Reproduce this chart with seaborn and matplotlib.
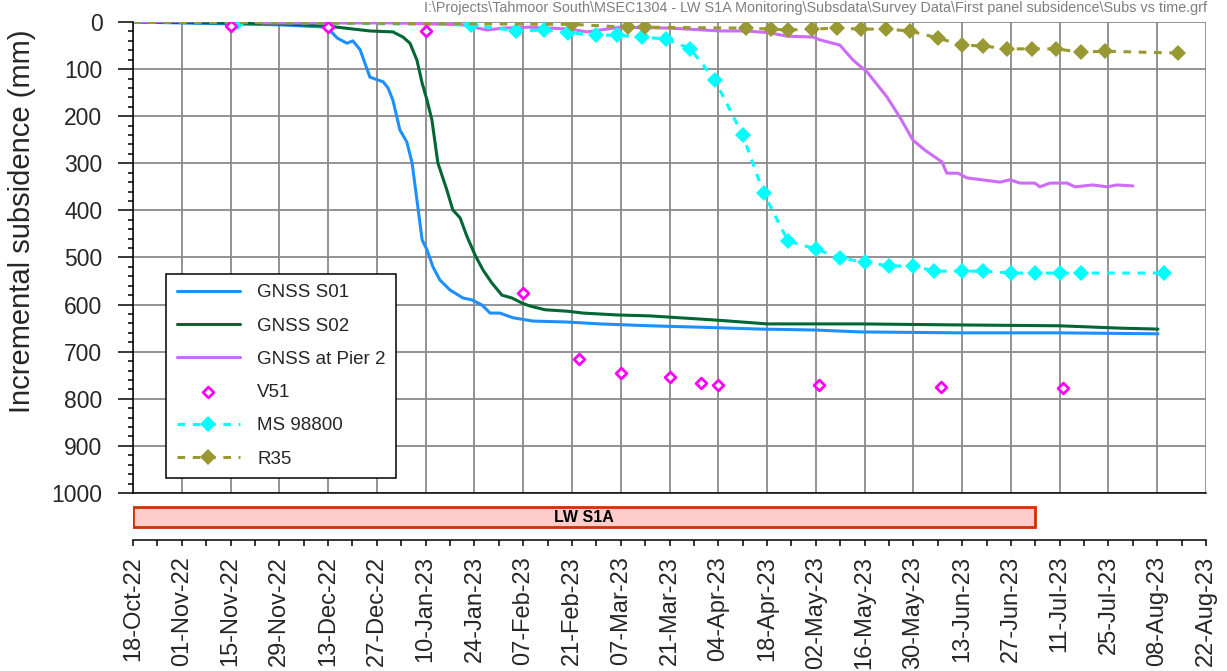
import numpy as np
import pandas as pd
import matplotlib
matplotlib.use("Agg")
import matplotlib.pyplot as plt
import matplotlib.dates as mdates
from matplotlib.ticker import MultipleLocator
import seaborn as sns

# ---------------- data ----------------
START = "2022-10-18"
END = "2023-08-22"

# GNSS series: days since 18-Oct-22, incremental subsidence (mm)
s01_day = [0, 13.5, 27.8, 42, 55.7, 58.6, 61.4, 63.1, 65.2, 68, 71.8, 73.2, 74.6, 76.6, 78.6,
           80.1, 81.5, 83, 84.4, 86.1, 88.1, 91, 94.7, 97.3, 100.2, 102.5, 105.3, 109.1, 114.8,
           124.6, 134, 148.4, 162.7, 180, 195.8, 208.7, 237.4, 266, 294.2]
s01_mm = [0, 2, 4, 6, 11, 34, 45, 40, 59, 117, 127, 140, 166, 229, 255,
          299, 378, 463, 484, 520, 548, 569, 586, 590, 601, 618, 618, 628, 635,
          637, 641, 645, 648, 652, 654, 658, 660, 660, 662]

s02_day = [0, 27.8, 42.2, 55.7, 58.6, 68, 74.6, 77.5, 79.5, 81.5, 83, 84.4, 85.8, 87.5, 90.1,
           91.8, 93.9, 95.9, 98.2, 100.5, 103, 105.9, 108.8, 111.7, 113.9, 118.3, 124.6, 129.2,
           138.9, 148.4, 167.6, 182, 196.3, 208.7, 234.5, 266, 283.3, 294.2]
s02_mm = [0, 2, 4, 8, 11, 19, 21, 32, 45, 81, 130, 166, 208, 299, 357,
          399, 416, 456, 495, 527, 554, 580, 586, 597, 603, 611, 614, 618,
          622, 624, 633, 641, 641, 641, 643, 645, 650, 652]

pier_day = [0, 33.6, 37.3, 56.5, 75.8, 94.7, 101.6, 106.2, 113.9, 125.4, 130.3, 139.8, 154.1,
            168.5, 176.2, 182.8, 187.7, 195.2, 197.2, 202.9, 206.7, 210.7, 216.4, 220.1, 223.9,
            227.3, 232.2, 233.6, 236.8, 239.4, 248.9, 251.7, 254.6, 258.9, 260.3, 263.2, 268.1,
            270.4, 275.5, 279.6, 282.4, 287]
pier_mm = [0, -4, 2, 2, 2, 6, 17, 13, 11, 15, 21, 11, 13,
           19, 19, 23, 30, 32, 38, 49, 81, 106, 159, 202, 251,
           272, 297, 321, 321, 331, 340, 335, 342, 342, 350, 342, 342,
           350, 346, 350, 346, 348]

v51_dates = ["2022-11-15", "2022-12-13", "2023-01-10", "2023-02-07", "2023-02-23", "2023-03-07",
             "2023-03-21", "2023-03-30", "2023-04-04", "2023-05-03", "2023-06-07", "2023-07-12"]
v51_mm = [8, 10, 20, 575, 715, 745, 754, 766, 771, 771, 775, 777]

ms_dates = ["2022-10-18", "2022-11-17", "2023-01-23", "2023-02-05", "2023-02-13", "2023-02-20",
            "2023-02-28", "2023-03-06", "2023-03-13", "2023-03-20", "2023-03-27", "2023-04-03",
            "2023-04-11", "2023-04-17", "2023-04-24", "2023-05-02", "2023-05-09", "2023-05-16",
            "2023-05-23", "2023-05-30", "2023-06-05", "2023-06-13", "2023-06-19", "2023-06-27",
            "2023-07-04", "2023-07-11", "2023-07-17", "2023-08-10"]
ms_mm = [0, 0, 6, 19, 17, 23, 28, 28, 32, 36, 57, 123, 240, 363, 465, 482, 501, 510,
         518, 518, 529, 529, 529, 533, 533, 533, 533, 533]

r35_dates = ["2022-10-18", "2023-02-21", "2023-03-09", "2023-03-14", "2023-04-12", "2023-04-19",
             "2023-04-24", "2023-05-01", "2023-05-08", "2023-05-15", "2023-05-22", "2023-05-29",
             "2023-06-06", "2023-06-13", "2023-06-19", "2023-06-26", "2023-07-03", "2023-07-10",
             "2023-07-17", "2023-07-24", "2023-08-14"]
r35_mm = [0, 5, 11, 11, 13, 15, 17, 15, 13, 15, 15, 19, 34, 49, 51, 57, 57, 57, 64, 62, 66]

lw_label = "LW S1A"
lw_start = "2022-10-18"
lw_end = "2023-07-04"

path_text = ("I:\\Projects\\Tahmoor South\\MSEC1304 - LW S1A Monitoring\\Subsdata\\"
             "Survey Data\\First panel subsidence\\Subs vs time.grf")

# ---------------- styling ----------------
sns.set_style("white")
plt.rcParams['font.family'] = ['Liberation Sans', 'DejaVu Sans']

t0 = pd.Timestamp(START)
def from_days(d):
    return t0 + pd.to_timedelta(np.asarray(d, dtype=float), unit="D")

fig = plt.figure(figsize=(12.27, 6.71), dpi=100)
ax = fig.add_axes([0.1084, 0.2653, 0.8745, 0.7019])
axb = fig.add_axes([0.1084, 0.1952, 0.8745, 0.0596], sharex=ax)

C_S01 = "#1E8FFF"
C_S02 = "#006633"
C_PIER = "#CC6CF8"
C_V51 = "#FF00FF"
C_MS = "#00FFFF"
C_R35 = "#999933"

sns.lineplot(x=from_days(s01_day), y=s01_mm, ax=ax, color=C_S01, linewidth=2.2,
             label="GNSS S01", estimator=None, sort=False)
sns.lineplot(x=from_days(s02_day), y=s02_mm, ax=ax, color=C_S02, linewidth=2.2,
             label="GNSS S02", estimator=None, sort=False)
sns.lineplot(x=from_days(pier_day), y=pier_mm, ax=ax, color=C_PIER, linewidth=2.2,
             label="GNSS at Pier 2", estimator=None, sort=False)
sns.scatterplot(x=pd.to_datetime(v51_dates), y=v51_mm, ax=ax, marker="D", s=30,
                facecolor="white", edgecolor=C_V51, linewidth=2.0, label="V51", zorder=5)
sns.lineplot(x=pd.to_datetime(ms_dates), y=ms_mm, ax=ax, color=C_MS, linewidth=2.2,
             linestyle=(0, (2.5, 2.5)), marker="D", markersize=8, markeredgewidth=0,
             markevery=list(range(1, len(ms_mm))), label="MS 98800", estimator=None, sort=False)
sns.lineplot(x=pd.to_datetime(r35_dates), y=r35_mm, ax=ax, color=C_R35, linewidth=2.2,
             linestyle=(0, (2.5, 2.5)), marker="D", markersize=8, markeredgewidth=0,
             markevery=list(range(1, len(r35_mm))), label="R35", estimator=None, sort=False)

# axes ranges & ticks
ticks = pd.date_range(START, END, freq="14D")
minor = pd.date_range(START, END, freq="7D")
ax.set_xlim(pd.Timestamp(START), pd.Timestamp(END))
ax.set_xticks(ticks)
ax.set_xticks(minor, minor=True)
ax.xaxis.set_major_formatter(mdates.DateFormatter("%d-%b-%y"))

ax.set_ylim(1000, 0)
ax.yaxis.set_major_locator(MultipleLocator(100))
ax.yaxis.set_minor_locator(MultipleLocator(20))
ax.tick_params(axis="x", which="both", length=0, labelbottom=False)
ax.tick_params(axis="y", which="major", direction="out", length=11, width=1.1,
               color="black", labelsize=16.5, pad=11, left=True)
ax.tick_params(axis="y", which="minor", direction="out", length=3.8, width=1.1,
               color="black", left=True)
ax.grid(True, which="major", color="#8a8a8a", linewidth=1.3)
ax.set_axisbelow(True)
for s in ["top", "right"]:
    ax.spines[s].set_visible(False)
for s in ["left", "bottom"]:
    ax.spines[s].set_color("black")
    ax.spines[s].set_linewidth(1.1)
ax.set_xlabel("")
ax.set_ylabel("Incremental subsidence (mm)", fontsize=21)
ax.yaxis.set_label_coords(-0.0904, 0.577)

leg = ax.legend(loc="lower left", bbox_to_anchor=(0.031, 0.032), borderaxespad=0,
                frameon=True, fancybox=False, edgecolor="black", framealpha=1,
                fontsize=13.5, handlelength=3.4, handletextpad=0.9, numpoints=1,
                scatterpoints=1, labelspacing=0.86, borderpad=0.55)
leg.get_frame().set_linewidth(1.1)

# longwall bar axes
axb.set_ylim(0, 1)
s_num = mdates.date2num(pd.Timestamp(lw_start))
e_num = mdates.date2num(pd.Timestamp(lw_end))
axb.barh([0.575], [e_num - s_num], left=s_num, height=0.5, color="#FFCCCC",
         edgecolor="#CC3300", linewidth=2)
axb.text((s_num + e_num) / 2, 0.575, lw_label, ha="center", va="center",
         fontsize=11.5, fontweight="bold", color="black")
for s in ["top", "right", "left"]:
    axb.spines[s].set_visible(False)
axb.spines["bottom"].set_color("black")
axb.spines["bottom"].set_linewidth(1.1)
axb.set_yticks([])
axb.tick_params(axis="x", which="both", direction="out", length=4.5, width=1.1,
                color="black", bottom=True)
axb.tick_params(axis="x", which="major", labelsize=17, labelrotation=90, pad=7)
axb.set_facecolor("none")

fig.text(0.9837, 0.998, path_text, ha="right", va="top", fontsize=10.4, color="#7f7f7f")

fig.savefig("out.png", dpi=100)
